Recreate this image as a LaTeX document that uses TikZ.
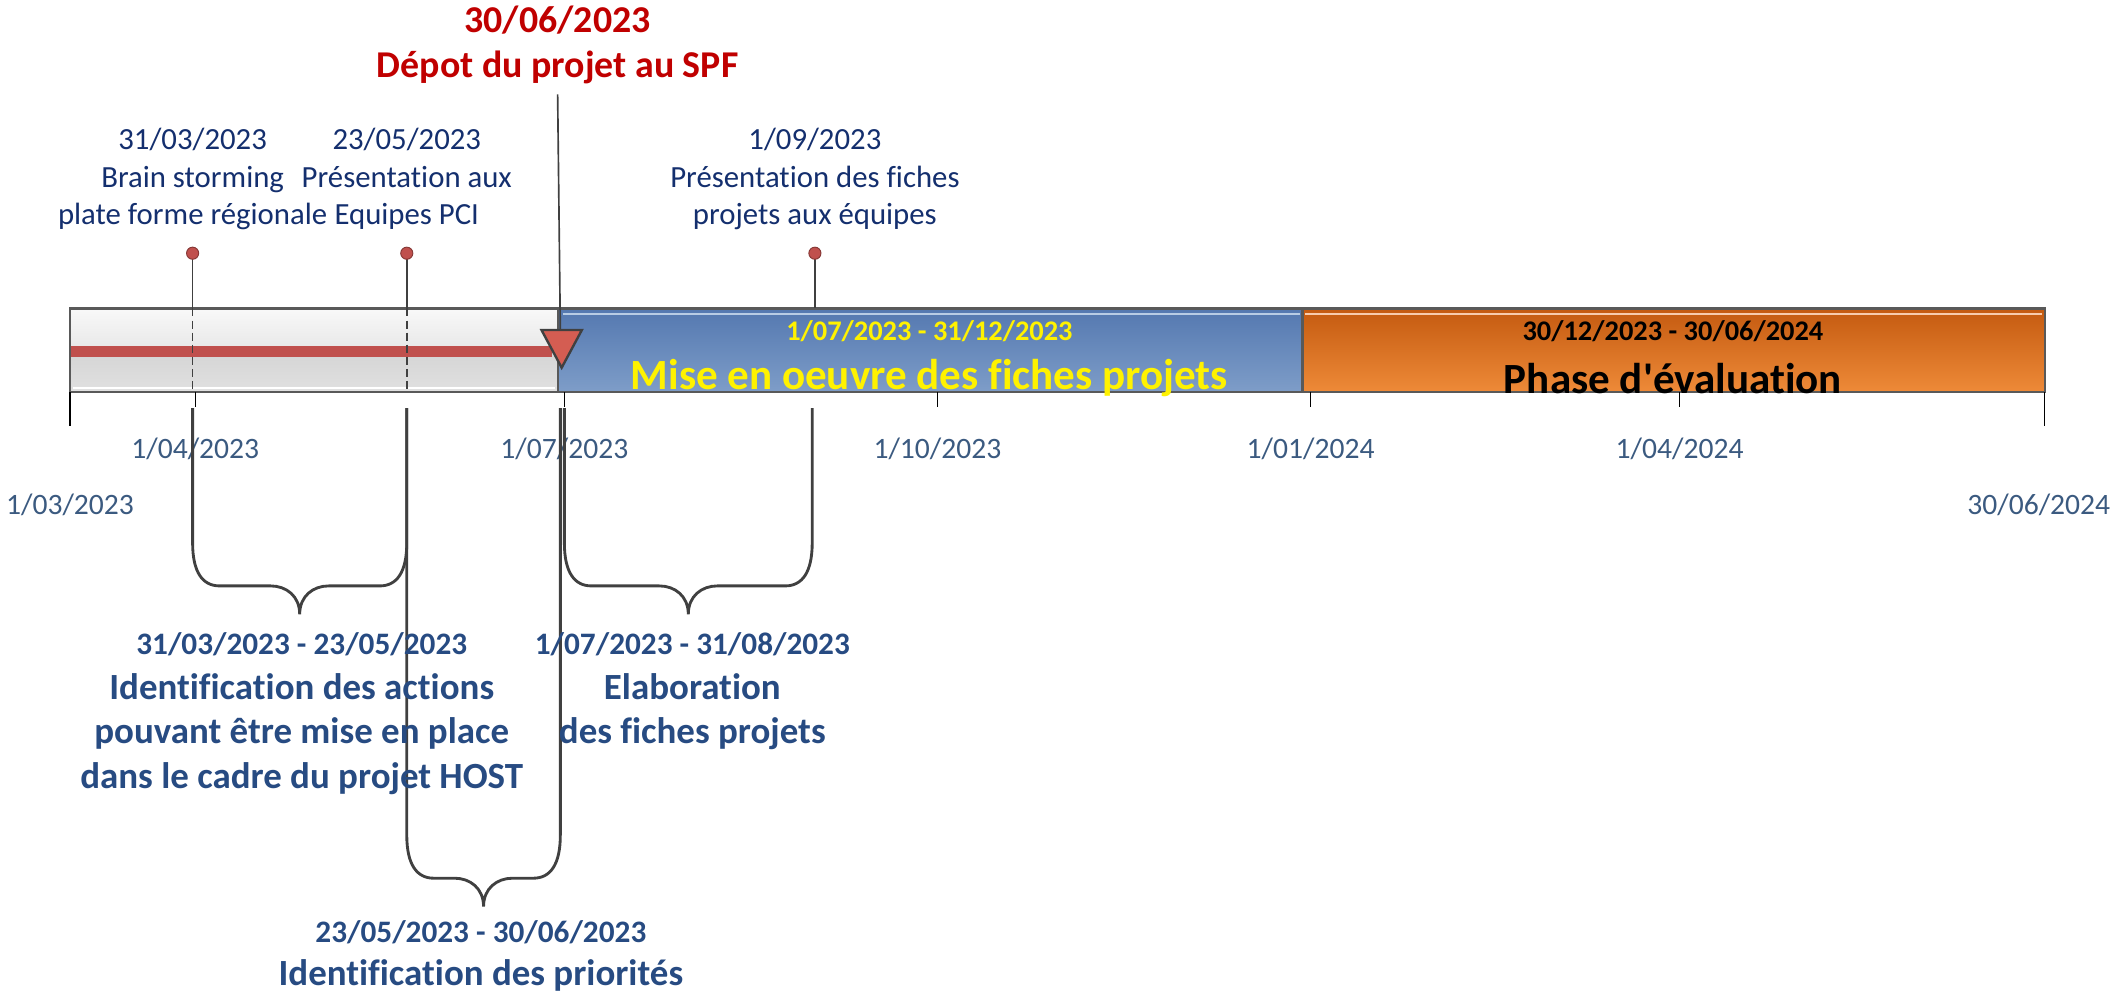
\documentclass[tikz,border=0pt]{standalone}
\usepackage{fontspec}
\setmainfont{Carlito}[Ligatures=NoCommon]
\definecolor{depotred}{HTML}{C00000}
\definecolor{mstext}{HTML}{142F6E}
\definecolor{axistext}{HTML}{3B5A80}
\definecolor{bracetext}{HTML}{274B82}
\definecolor{framegray}{HTML}{595959}
\definecolor{dotred}{HTML}{C0504D}
\definecolor{linegray}{HTML}{404040}
\definecolor{bluetop}{HTML}{5478B0}
\definecolor{bluebot}{HTML}{7E9DC8}
\definecolor{bluelight}{HTML}{B8CCE4}
\definecolor{orangetop}{HTML}{C45A10}
\definecolor{orangebot}{HTML}{EE8A38}
\definecolor{orangelight}{HTML}{F8CBAD}
\definecolor{trifill}{HTML}{D45D52}
\begin{document}
\begin{tikzpicture}[
    every node/.style={inner sep=0pt},
    mslabel/.style={font=\fontsize{13}{15.9}\selectfont, text=mstext, align=center},
    ticklabel/.style={font=\fontsize{12.5}{15}\selectfont, text=axistext},
    spandate/.style={font=\bfseries\fontsize{13.2}{16}\selectfont, text=bracetext, align=center},
    spantext/.style={font=\bfseries\fontsize{15.6}{18.8}\selectfont, text=bracetext, align=center},
    bracket/.style={draw=linegray, line width=1.2pt},
    stem/.style={draw=linegray, line width=0.7pt},
    msdot/.style={circle, fill=dotred, draw=dotred!70!black, minimum size=0.18cm}
]
\useasboundingbox (0,0) rectangle (31.36,14.78);

% barre des phases
\shade[top color=gray!5, bottom color=gray!19] (1.04,9.56) rectangle (8.28,10.20);
\shade[top color=gray!33, bottom color=gray!24] (1.04,8.96) rectangle (8.28,9.56);
\shade[top color=bluetop, bottom color=bluebot] (8.28,8.96) rectangle (19.34,10.20);
\shade[top color=orangetop, bottom color=orangebot] (19.34,8.96) rectangle (30.36,10.20);
\draw[white, line width=0.8pt] (1.08,9.02)--(8.24,9.02);
\draw[bluelight, line width=1pt] (8.36,10.12)--(19.30,10.12);
\draw[orangelight, line width=1pt] (19.38,10.12)--(30.32,10.12);
\fill[dotred] (1.04,9.48) rectangle (8.20,9.64);
\draw[framegray, line width=0.9pt] (1.04,8.96) rectangle (30.36,10.20);
\draw[framegray, line width=0.9pt] (8.28,8.96)--(8.28,10.20) (19.34,8.96)--(19.34,10.20);

\node (phase2date) at (13.80,9.86) {\bfseries\fontsize{12}{14}\selectfont\color{yellow}1/07/2023 - 31/12/2023};
\node (phase2) at (13.80,9.16) {\bfseries\fontsize{18.2}{22}\selectfont\color{yellow}Mise en oeuvre des fiches projets};
\node (phase3date) at (24.84,9.86) {\bfseries\fontsize{12}{14}\selectfont 30/12/2023 - 30/06/2024};
\node (phase3) at (24.84,9.16) {\bfseries\fontsize{18.2}{22}\selectfont Phase d\textquotesingle évaluation};

% jalons
\foreach \x/\txt [count=\i] in {2.86/{31/03/2023\\Brain storming\\plate forme régionale},
    6.04/{23/05/2023\\Présentation aux\\Equipes PCI},
    12.10/{1/09/2023\\Présentation des fiches\\projets aux équipes}}
{
    \node[mslabel] (ms\i) at (\x,12.12) {\txt};
    \draw[stem] (\x,11.02)--(\x,10.20);
    \node[msdot] (dot\i) at (\x,11.02) {};
}
\draw[linegray, line width=0.7pt, dash pattern=on 3.4pt off 1.7pt] (2.86,10.20)--(2.86,8.96) (6.04,10.20)--(6.04,8.96);

% dépôt
\node[font=\bfseries\fontsize{16}{18.8}\selectfont, text=depotred, align=center] (depot) at (8.28,14.11) {30/06/2023\\Dépot du projet au SPF};
\draw[stem] (8.28,13.38)--(8.32,9.88);
\filldraw[fill=trifill, draw=linegray, line width=1pt] (8.04,9.88)--(8.64,9.88)--(8.34,9.32)--cycle;

% axe
\foreach \x in {2.90,8.38,13.92,19.46,24.94}
    \draw[black, line width=0.6pt] (\x,8.96)--(\x,8.74);
\draw[black, line width=0.6pt] (1.04,8.96)--(1.04,8.46) (30.36,8.96)--(30.36,8.46);
\foreach \x/\d [count=\i] in {2.90/{1/04/2023}, 8.38/{1/07/2023}, 13.92/{1/10/2023}, 19.46/{1/01/2024}, 24.94/{1/04/2024}}
    \node[ticklabel] (tick\i) at (\x,8.12) {\d};
\node[ticklabel] (axstart) at (1.04,7.28) {1/03/2023};
\node[ticklabel, anchor=east] (axend) at (31.34,7.28) {30/06/2024};

% accolades
\foreach \l/\r/\h in {2.86/6.04/6.08, 8.38/12.06/6.08, 6.04/8.32/1.74}
{
    \pgfmathsetmacro\m{(\l+\r)/2}
    \draw[bracket] (\l,8.72) -- (\l,\h+0.64) .. controls (\l,\h+0.2) and (\l+0.15,\h) .. (\l+0.4,\h)
        -- (\m-0.43,\h) .. controls (\m-0.2,\h) and (\m,\h-0.15) .. (\m,\h-0.42)
        .. controls (\m,\h-0.15) and (\m+0.2,\h) .. (\m+0.43,\h)
        -- (\r-0.4,\h) .. controls (\r-0.15,\h) and (\r,\h+0.2) .. (\r,\h+0.64) -- (\r,8.72);
}
\node[spandate] (span1date) at (4.48,5.22) {31/03/2023 - 23/05/2023};
\node[spantext] (span1) at (4.48,3.88) {Identification des actions\\pouvant être mise en place\\dans le cadre du projet HOST};
\node[spandate] (span2date) at (10.28,5.22) {1/07/2023 - 31/08/2023};
\node[spantext] (span2) at (10.28,4.21) {Elaboration\\des fiches projets};
\node[spandate] (span3date) at (7.14,0.94) {23/05/2023 - 30/06/2023};
\node[spantext] (span3) at (7.14,0.30) {Identification des priorités};
\end{tikzpicture}
\end{document}
